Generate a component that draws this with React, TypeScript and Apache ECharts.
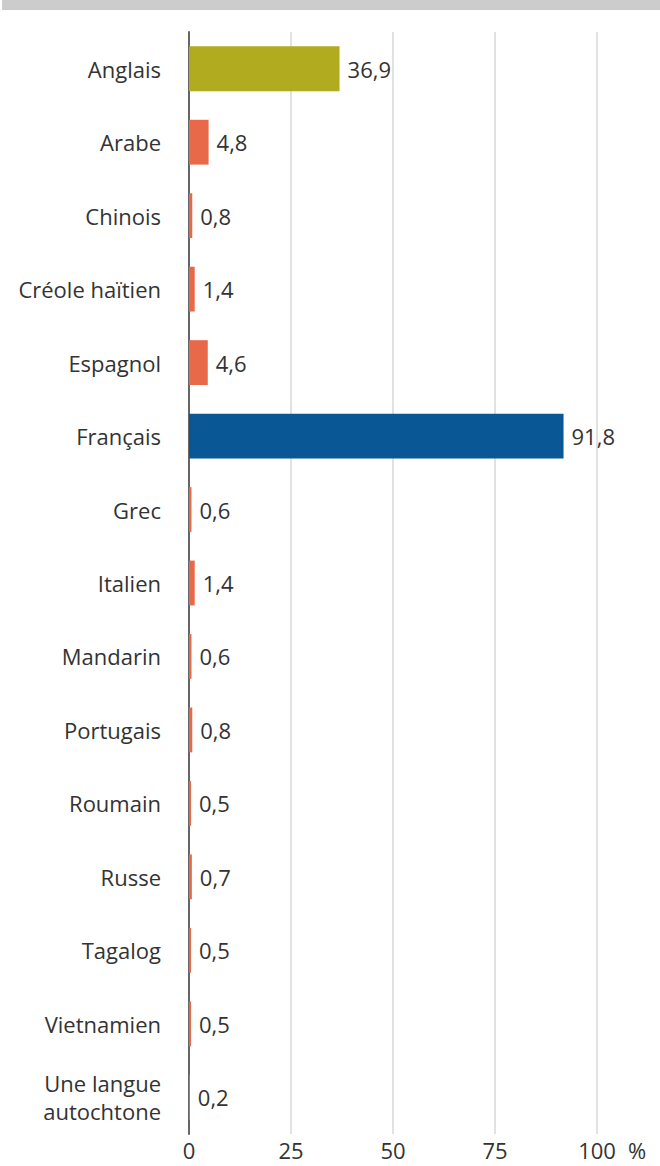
import React, { useEffect, useRef } from "react";
import * as echarts from "echarts";

const categories = [
  "Anglais",
  "Arabe",
  "Chinois",
  "Créole haïtien",
  "Espagnol",
  "Français",
  "Grec",
  "Italien",
  "Mandarin",
  "Portugais",
  "Roumain",
  "Russe",
  "Tagalog",
  "Vietnamien",
  "Une langue\nautochtone",
];
const values = [36.9, 4.8, 0.8, 1.4, 4.6, 91.8, 0.6, 1.4, 0.6, 0.8, 0.5, 0.7, 0.5, 0.5, 0.2];
const barColors = [
  "#b0ab1f",
  "#e8684a",
  "#e8684a",
  "#e8684a",
  "#e8684a",
  "#0a5796",
  "#e8684a",
  "#e8684a",
  "#e8684a",
  "#e8684a",
  "#e8684a",
  "#e8684a",
  "#e8684a",
  "#e8684a",
  "#e8684a",
];
const xTicks = [0, 25, 50, 75, 100];

const FONT = "'Open Sans', 'Noto Sans', sans-serif";
const FS = 22;

export default function App() {
  const ref = useRef<HTMLDivElement>(null);
  useEffect(() => {
    if (!ref.current) return;
    const chart = echarts.init(ref.current, undefined, { renderer: "svg" });
    chart.setOption({
      animation: false,
      textStyle: { fontFamily: FONT },
      graphic: [
        {
          type: "rect",
          left: 2,
          top: 0,
          shape: { width: 658, height: 10 },
          style: { fill: "#cccccc" },
        },
      ],
      grid: { left: 189, right: 63, top: 32, bottom: 32, containLabel: false },
      xAxis: {
        type: "value",
        min: xTicks[0],
        max: xTicks[xTicks.length - 1],
        interval: 25,
        name: "%",
        nameLocation: "end",
        nameGap: 31,
        nameTextStyle: {
          color: "#333333",
          fontSize: FS,
          fontFamily: FONT,
          verticalAlign: "top",
          lineHeight: 18,
          padding: [7, 0, 0, 0],
        },
        axisLine: { show: false },
        axisTick: { show: false },
        axisLabel: {
          color: "#333333",
          fontSize: FS,
          fontFamily: FONT,
          margin: 7,
          lineHeight: 18,
        },
        splitLine: { show: true, lineStyle: { color: "#d9d9d9", width: 1.5 } },
      },
      yAxis: {
        type: "category",
        data: categories,
        inverse: true,
        axisLine: { show: true, lineStyle: { color: "#666666", width: 2 } },
        axisTick: { show: false },
        axisLabel: {
          color: "#333333",
          fontSize: FS,
          fontFamily: FONT,
          margin: 28,
          lineHeight: 28,
        },
      },
      series: [
        {
          type: "bar",
          data: values.map((v, i) => ({ value: v, itemStyle: { color: barColors[i] } })),
          barWidth: "61%",
          label: {
            show: true,
            position: "right",
            distance: 8,
            color: "#333333",
            fontSize: FS,
            fontFamily: FONT,
            formatter: (p: any) => String(p.value).replace(".", ","),
          },
        },
      ],
    });
    return () => chart.dispose();
  }, []);
  return <div ref={ref} style={{ width: 660, height: 1166, position: "absolute", left: 0, top: 0 }} />;
}
